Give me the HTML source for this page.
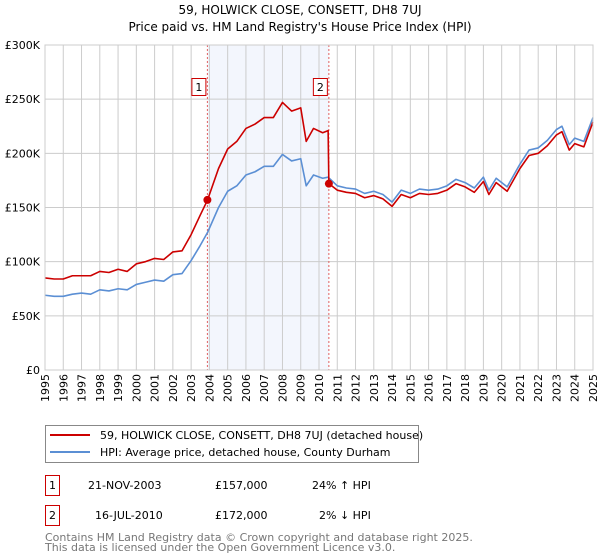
<!DOCTYPE html>
<html><head><meta charset="utf-8"><style>
body{margin:0;background:#fff;}
svg{display:block;font-family:"DejaVu Sans","Liberation Sans",sans-serif;}
</style></head><body>
<svg id="chart" width="600" height="560" viewBox="0 0 600 560">
<text x="300" y="14" text-anchor="middle" font-size="12">59, HOLWICK CLOSE, CONSETT, DH8 7UJ</text>
<text x="300" y="31" text-anchor="middle" font-size="12">Price paid vs. HM Land Registry's House Price Index (HPI)</text>
<g id="plot"></g>
<g>
<rect x="45.5" y="425.5" width="373" height="37" fill="#fff" stroke="#888"/>
<line x1="50" y1="435" x2="90" y2="435" stroke="#cc0000" stroke-width="2"/>
<text x="100" y="439" font-size="11">59, HOLWICK CLOSE, CONSETT, DH8 7UJ (detached house)</text>
<line x1="50" y1="452" x2="90" y2="452" stroke="#5b8fd4" stroke-width="2"/>
<text x="100" y="456" font-size="11">HPI: Average price, detached house, County Durham</text>
</g>
<g font-size="11">
<rect x="45.5" y="475.5" width="14" height="20" fill="#fff" stroke="#cc0000"/>
<text x="52.5" y="489" text-anchor="middle">1</text>
<text x="88" y="489">21-NOV-2003</text>
<text x="215" y="489">£157,000</text>
<text x="312" y="489">24% ↑ HPI</text>
<rect x="45.5" y="505.5" width="14" height="20" fill="#fff" stroke="#cc0000"/>
<text x="52.5" y="519" text-anchor="middle">2</text>
<text x="95" y="519">16-JUL-2010</text>
<text x="215" y="519">£172,000</text>
<text x="319" y="519">2% ↓ HPI</text>
</g>
<text x="45" y="541" font-size="11" fill="#777">Contains HM Land Registry data © Crown copyright and database right 2025.</text>
<text x="45" y="551" font-size="11" fill="#777">This data is licensed under the Open Government Licence v3.0.</text>
</svg>
<script>
const hpiYears=[1995,1995.5,1996,1996.5,1997,1997.5,1998,1998.5,1999,1999.5,2000,2000.5,2001,2001.5,2002,2002.5,2003,2003.5,2003.9,2004.5,2005,2005.5,2006,2006.5,2007,2007.5,2008,2008.5,2009,2009.3,2009.7,2010.2,2010.5,2011,2011.5,2012,2012.5,2013,2013.5,2014,2014.5,2015,2015.5,2016,2016.5,2017,2017.5,2018,2018.5,2019,2019.3,2019.7,2020.3,2021,2021.5,2022,2022.5,2023,2023.3,2023.7,2024,2024.5,2025];
const hpiValues=[69,68,68,70,71,70,74,73,75,74,79,81,83,82,88,89,101,115,127,150,165,170,180,183,188,188,199,193,195,170,180,177,178,170,168,167,163,165,162,155,166,163,167,166,167,170,176,173,168,178,166,177,169,190,203,205,212,222,225,208,214,211,233];
const priceYears=[1995,1995.5,1996,1996.5,1997,1997.5,1998,1998.5,1999,1999.5,2000,2000.5,2001,2001.5,2002,2002.5,2003,2003.5,2003.9,2004.5,2005,2005.5,2006,2006.5,2007,2007.5,2008,2008.5,2009,2009.3,2009.7,2010.2,2010.5,2010.54,2011,2011.5,2012,2012.5,2013,2013.5,2014,2014.5,2015,2015.5,2016,2016.5,2017,2017.5,2018,2018.5,2019,2019.3,2019.7,2020.3,2021,2021.5,2022,2022.5,2023,2023.3,2023.7,2024,2024.5,2025];
const priceValues=[85,84,84,87,87,87,91,90,93,91,98,100,103,102,109,110,125,143,157,186,204,211,223,227,233,233,247,239,242,211,223,219,221,172,166,164,163,159,161,158,151,162,159,163,162,163,166,172,169,164,174,162,173,165,186,198,200,207,217,220,203,209,206,229];
const saleYears=[2003.89,2010.54];
const saleValues=[157,172];
const saleLabels=["1","2"];
const yTicks=[0,50,100,150,200,250,300];
const yTickLabels=["£0","£50K","£100K","£150K","£200K","£250K","£300K"];
const xTicks=[1995,1996,1997,1998,1999,2000,2001,2002,2003,2004,2005,2006,2007,2008,2009,2010,2011,2012,2013,2014,2015,2016,2017,2018,2019,2020,2021,2022,2023,2024,2025];

const L=45,R=593,T=45,B=370;
const xS=y=>L+(y-1995)/30*(R-L);
const yS=v=>B-v/300*(B-T);
const NS="http://www.w3.org/2000/svg";
const g=document.getElementById('plot');
function mk(t,a){const e=document.createElementNS(NS,t);for(const k in a)e.setAttribute(k,a[k]);g.appendChild(e);return e;}

const sh=mk('rect',{x:xS(saleYears[0]),y:T,width:xS(saleYears[1])-xS(saleYears[0]),height:B-T,fill:'#f3f6fd'});


yTicks.forEach((v,i)=>{
 const ln=mk('line',{x1:L,x2:R,y1:yS(v),y2:yS(v),stroke:'#ccc','stroke-width':1});
 
 
 const t=mk('text',{x:L-5,y:yS(v)+4,'text-anchor':'end','font-size':'11'});
 t.textContent=yTickLabels[i];
 
 
});
xTicks.forEach(y=>{
 const ln=mk('line',{x1:xS(y),x2:xS(y),y1:T,y2:B,stroke:'#ccc','stroke-width':1});
 
 
 const t=mk('text',{x:0,y:0,'text-anchor':'end','font-size':'11',transform:`translate(${xS(y)+4},${B+4}) rotate(-90)`});
 t.textContent=String(y);
 
 
});
saleYears.forEach((y,i)=>{
 const ln=mk('line',{x1:xS(y),x2:xS(y),y1:T,y2:B,stroke:'#e06060','stroke-width':1,'stroke-dasharray':'2,2'});
 
 
 const bx=mk('rect',{x:xS(y)-15.5,y:78.5,width:14,height:17,fill:'#fff',stroke:'#cc0000'});
 
 
 const t=mk('text',{x:xS(y)-8.5,y:91,'text-anchor':'middle','font-size':'11'});
 t.textContent=saleLabels[i];
 
 
});
function line(xs,vs,c,name){
 const p=mk('polyline',{points:xs.map((y,i)=>xS(y)+','+yS(vs[i])).join(' '),fill:'none',stroke:c,'stroke-width':1.6,'stroke-linejoin':'round'});
 
 
}
line(hpiYears,hpiValues,'#5b8fd4','hpi-line');
line(priceYears,priceValues,'#cc0000','price-paid-line');
saleYears.forEach((y,i)=>{
 const c=mk('circle',{cx:xS(y),cy:yS(saleValues[i]),r:4,fill:'#cc0000'});
 
 
});
const ax=mk('rect',{x:L,y:T,width:R-L,height:B-T,fill:'none',stroke:'#ccc'});


</script>
</body></html>
